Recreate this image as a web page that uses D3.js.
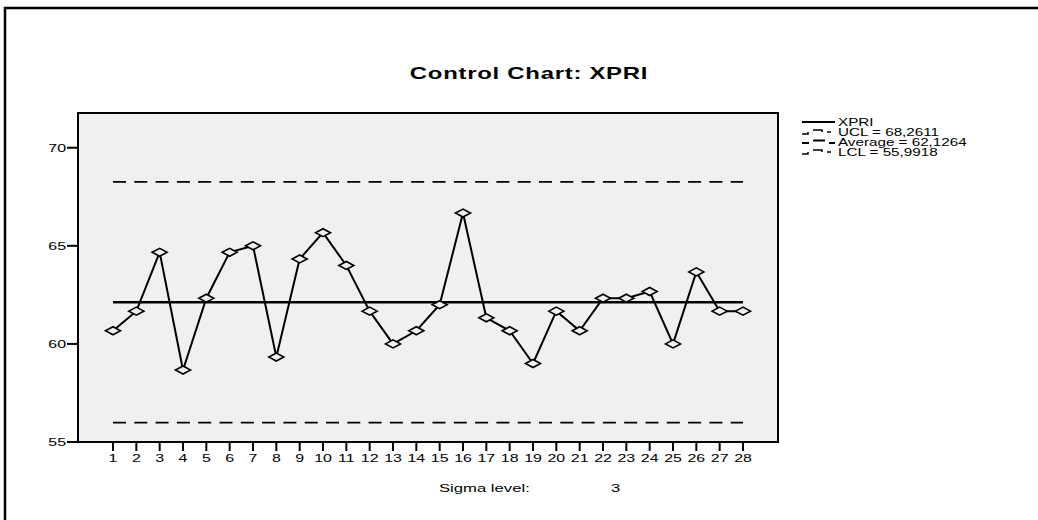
<!DOCTYPE html>
<html lang="en">
<head>
<meta charset="UTF-8">
<title>Control Chart: XPRI</title>
<style>
    body { margin: 0; background: #ffffff; }
    svg { display: block; font-family: "Liberation Sans", Arial, sans-serif; }
</style>
</head>
<body>
<svg width="1038" height="520"></svg>
<script src="https://d3js.org/d3.v7.min.js"></script>
<script>
    // sample numbers and subgroup means
    const samples = d3.range(1, 29);
    const xpri = [60.67, 61.67, 64.67, 58.67, 62.33, 64.67, 65.00, 59.33, 64.33, 65.67,
                  64.00, 61.67, 60.00, 60.67, 62.00, 66.67, 61.33, 60.67, 59.00, 61.67,
                  60.67, 62.33, 62.33, 62.67, 60.00, 63.67, 61.67, 61.67];
    const limits = [
        { key: "UCL", value: 68.2611, label: "UCL = 68,2611" },
        { key: "Average", value: 62.1264, label: "Average = 62,1264" },
        { key: "LCL", value: 55.9918, label: "LCL = 55,9918" }
    ];
    const yTicks = [55, 60, 65, 70];
    const sigmaLevel = 3;

    const SX = 1.45; // the source picture is stretched sideways
    const svg = d3.select("svg");

    // helper for the wide text of the original
    function label(x, y, txt, anchor, size, weight) {
        return svg.append("text")
            .attr("transform", `translate(${x},${y}) scale(${SX},1)`)
            .attr("text-anchor", anchor || "start")
            .attr("font-size", size || 11)
            .attr("font-weight", weight || "normal")
            .attr("fill", "#000")
            .text(txt);
    }

    // outer frame (only top and left visible)
    svg.append("path")
        .attr("d", "M5,520V8H1038")
        .attr("fill", "none")
        .attr("stroke", "#000")
        .attr("stroke-width", 2.5);

    const plot = { left: 78, right: 778, top: 113, bottom: 442 };
    const x = d3.scaleLinear().domain([-0.5, 29.5]).range([plot.left, plot.right]);
    const y = d3.scaleLinear().domain([55, 71.77]).range([plot.bottom, plot.top]);

    svg.append("rect")
        .attr("x", plot.left).attr("y", plot.top)
        .attr("width", plot.right - plot.left)
        .attr("height", plot.bottom - plot.top)
        .attr("fill", "#f0f0f0")
        .attr("stroke", "#000")
        .attr("stroke-width", 2);

    // y axis ticks + labels
    yTicks.forEach(t => {
        svg.append("line")
            .attr("x1", plot.left - 11).attr("x2", plot.left)
            .attr("y1", y(t)).attr("y2", y(t))
            .attr("stroke", "#000").attr("stroke-width", 2);
        label(plot.left - 12, y(t) + 4, t, "end");
    });

    // x axis ticks + labels
    samples.forEach(s => {
        svg.append("line")
            .attr("x1", x(s)).attr("x2", x(s))
            .attr("y1", plot.bottom).attr("y2", plot.bottom + 9)
            .attr("stroke", "#000").attr("stroke-width", 2);
        label(x(s), plot.bottom + 20, s, "middle");
    });

    // control limits
    limits.forEach(l => {
        svg.append("line")
            .attr("x1", x(1)).attr("x2", x(28))
            .attr("y1", y(l.value)).attr("y2", y(l.value))
            .attr("stroke", "#000")
            .attr("stroke-width", l.key === "Average" ? 2.5 : 1.8)
            .attr("stroke-dasharray", l.key === "Average" ? null : "13,8.3");
    });

    // data line
    const line = d3.line().x((d, i) => x(samples[i])).y(d => y(d));
    svg.append("path")
        .datum(xpri)
        .attr("d", line)
        .attr("fill", "none")
        .attr("stroke", "#000")
        .attr("stroke-width", 2);

    // diamond markers, wider than tall like the original
    svg.selectAll(".mk")
        .data(xpri)
        .enter().append("path")
        .attr("class", "mk")
        .attr("d", (d, i) => {
            const cx = x(samples[i]), cy = y(d);
            return `M${cx - 7.5},${cy}L${cx},${cy - 4}L${cx + 7.5},${cy}L${cx},${cy + 4}Z`;
        })
        .attr("fill", "#f0f0f0")
        .attr("stroke", "#000")
        .attr("stroke-width", 1.6);

    // title
    label(529, 79, "Control Chart: XPRI", "middle", 16.5, "bold")
        .attr("letter-spacing", 0.5);

    // legend
    const lx = 802, lw = 33;
    const rows = [{ label: "XPRI", key: "XPRI" }].concat(limits);
    rows.forEach((r, i) => {
        const ly = 122 + i * 10;
        if (r.key === "XPRI") {
            svg.append("line").attr("x1", lx).attr("x2", lx + lw)
                .attr("y1", ly).attr("y2", ly)
                .attr("stroke", "#000").attr("stroke-width", 2);
        } else if (r.key === "Average") {
            svg.append("path")
                .attr("d", `M${lx},${ly + 1}h7M${lx + 11},${ly - 1.5}h12M${lx + 27},${ly + 1}h6`)
                .attr("stroke", "#000").attr("stroke-width", 2.2);
        } else {
            svg.append("path")
                .attr("d", `M${lx},${ly + 2}h6v-2M${lx + 11},${ly - 2}h9v2M${lx + 25},${ly}h4`)
                .attr("fill", "none")
                .attr("stroke", "#000").attr("stroke-width", 1.5);
        }
        label(lx + lw + 3, ly + 4, r.label, "start", 10.5);
    });

    // sigma level
    label(439, 492, "Sigma level:", "start", 11.5);
    label(611, 492, sigmaLevel, "start", 11.5);
</script>
</body>
</html>
